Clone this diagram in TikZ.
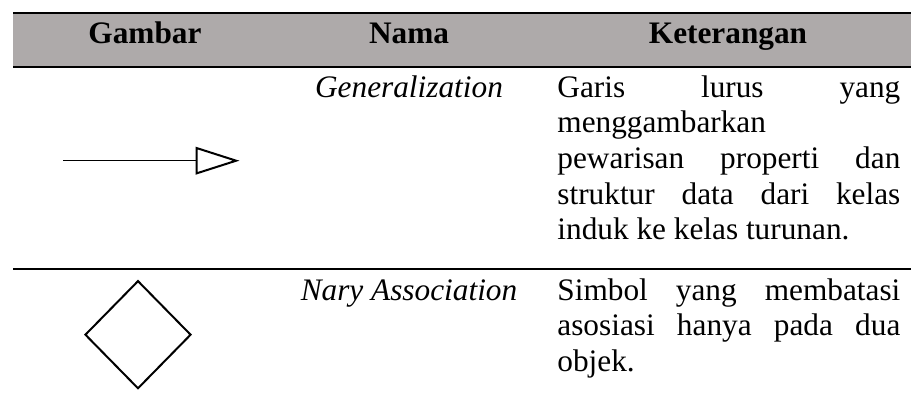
\documentclass[tikz,border=0pt]{standalone}
\usepackage{fontspec}
\setmainfont{Liberation Serif}
\usepackage{tikz}
\usetikzlibrary{arrows.meta, shapes.geometric}
\definecolor{hdrgray}{HTML}{AEAAAA}
\hyphenpenalty=10000
\exhyphenpenalty=10000
\tolerance=10000

\begin{document}
\begin{tikzpicture}[x=0.5pt, y=-0.5pt,
  cell/.style={inner sep=0pt, font=\fontsize{15.65}{17.85}\selectfont},
  hdr/.style={cell, anchor=base, font=\fontsize{15.65}{17.85}\selectfont\bfseries},
  namecell/.style={cell, anchor=base, font=\fontsize{15.65}{17.85}\selectfont\itshape},
  desc/.style={cell, anchor=base west, text width=171.5pt, align=justify},
  rule/.style={line width=1.1pt}]
  \useasboundingbox (0,0) rectangle (911,392);
  % header
  \fill[hdrgray] (13,13) rectangle (911,66.7);
  \draw[rule] (13,13) -- (911,13);
  \draw[rule] (13,66.7) -- (911,66.7);
  \foreach \x/\t/\n in {145/Gambar/hGambar, 409/Nama/hNama, 728/Keterangan/hKet}
    \node[hdr] (\n) at (\x,43) {\t};
  % generalization
  \coordinate (genTail) at (63,160.7);
  \coordinate (genHead) at (239.5,160.7);
  \draw[line width=0.65pt, -{Triangle[open, length=22pt, width=13.8pt, line width=1pt]}] (genTail) -- (genHead);
  \node[namecell] (genName) at (409,97) {Generalization};
  \node[desc] (genDesc) at (557,97) {Garis lurus yang\linebreak menggambarkan\newline pewarisan properti dan\linebreak struktur data dari kelas\linebreak induk ke kelas turunan.};
  \draw[line width=0.9pt] (13,269) -- (911,269);
  % nary association
  \node[diamond, draw, line width=1pt, minimum width=53pt, minimum height=54pt, inner sep=0pt] (narySym) at (138,334.7) {};
  \node[namecell] (naryName) at (409,300) {Nary Association};
  \node[desc] (naryDesc) at (557,300) {Simbol yang membatasi\linebreak asosiasi hanya pada dua\linebreak objek.};
\end{tikzpicture}
\end{document}
